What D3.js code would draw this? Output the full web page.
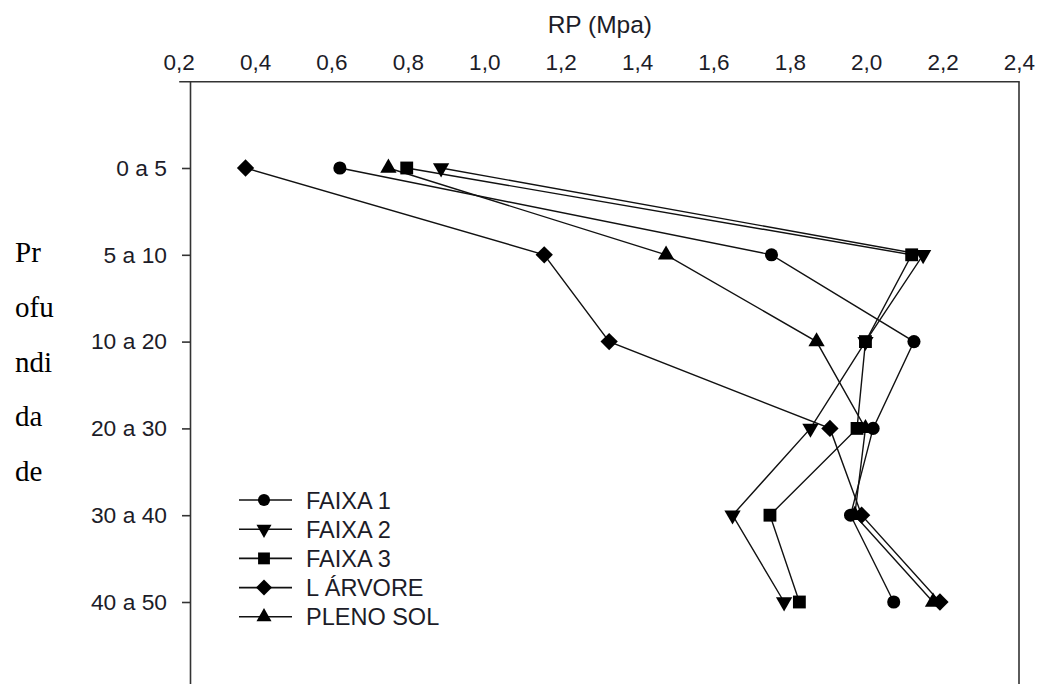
<!DOCTYPE html>
<html><head><meta charset="utf-8">
<script src="https://cdn.jsdelivr.net/npm/d3@7"></script>
<style>body{margin:0;background:#fff}svg{display:block}</style>
</head><body><svg id="c" width="1040" height="684"></svg>
<script>
// ---- data ----
const depths = ["0 a 5", "5 a 10", "10 a 20", "20 a 30", "30 a 40", "40 a 50"];
const xTicks = [0.2, 0.4, 0.6, 0.8, 1.0, 1.2, 1.4, 1.6, 1.8, 2.0, 2.2, 2.4];
const faixa1   = [0.622, 1.752, 2.125, 2.018, 1.959, 2.072];
const faixa2   = [0.887, 2.149, 1.998, 1.854, 1.650, 1.785];
const faixa3   = [0.797, 2.119, 1.998, 1.976, 1.748, 1.825];
const lArvore  = [0.375, 1.157, 1.327, 1.905, 1.988, 2.193];
const plenoSol = [0.749, 1.476, 1.870, 1.998, 1.970, 2.175];
const seriesNames = ["FAIXA 1", "FAIXA 2", "FAIXA 3", "L ÁRVORE", "PLENO SOL"];
const xTitle = "RP (Mpa)";
const yTitleParts = ["Pr", "ofu", "ndi", "da", "de"];

const series = [
  {name: seriesNames[0], values: faixa1,   shape: "circle"},
  {name: seriesNames[1], values: faixa2,   shape: "down"},
  {name: seriesNames[2], values: faixa3,   shape: "square"},
  {name: seriesNames[3], values: lArvore,  shape: "diamond"},
  {name: seriesNames[4], values: plenoSol, shape: "up"}
];

const svg = d3.select("#c");
const x = d3.scaleLinear().domain([0.2, 2.4]).range([178.7, 1019]);
const y = d3.scaleLinear().domain([0, 7]).range([81.2, 688.8]);
const leftAxisX = 190;
const sansFont = "'Liberation Sans', Arial, sans-serif";
const textColor = "#1c1c28";

function symbolPath(shape, big) {
  const k = big ? 1 : 0.85;
  switch (shape) {
    case "circle":  return d3.symbol(d3.symbolCircle, 135 * k)();
    case "square":  return d3.symbol(d3.symbolSquare, 165 * k)();
    case "diamond": return d3.symbol(d3.symbolSquare, 150 * k)();
    default:        return d3.symbol(d3.symbolTriangle, 115 * k)();
  }
}
function symbolRot(shape) {
  if (shape === "diamond") return 45;
  if (shape === "down") return 180;
  return 0;
}

// top axis
const topAxis = d3.axisTop(x).tickValues(xTicks).tickSize(0).tickPadding(11.5)
  .tickFormat(d => d.toFixed(1).replace(".", ","));
const gt = svg.append("g").attr("transform", `translate(0,${y(0)})`).call(topAxis);
gt.select(".domain").attr("stroke", "#333").attr("stroke-width", 1.6);
gt.selectAll("text").attr("font-family", sansFont).attr("font-size", 22.5).attr("fill", textColor);

// left axis
const leftAxis = d3.axisLeft(y).tickValues([1, 2, 3, 4, 5, 6]).tickSizeInner(8).tickSizeOuter(0)
  .tickPadding(15).tickFormat(i => depths[i - 1]);
const gl = svg.append("g").attr("transform", `translate(${leftAxisX},0)`).call(leftAxis);
gl.select(".domain").attr("stroke", "#333").attr("stroke-width", 1.6);
gl.selectAll(".tick line").attr("stroke", "#333").attr("stroke-width", 1.6);
gl.selectAll("text").attr("font-family", sansFont).attr("font-size", 22.8).attr("fill", textColor);

// right frame line
svg.append("line")
  .attr("x1", x(2.4)).attr("x2", x(2.4)).attr("y1", y(0)).attr("y2", y(7))
  .attr("stroke", "#333").attr("stroke-width", 1.6);

// x title
svg.append("text").attr("x", x(1.3) + 1).attr("y", 33).attr("text-anchor", "middle")
  .attr("font-family", sansFont).attr("font-size", 24.5).attr("fill", textColor).text(xTitle);

// y title (broken into lines, serif)
svg.append("g").selectAll("text").data(yTitleParts).join("text")
  .attr("x", 15).attr("y", (d, i) => 262 + i * 54.8)
  .attr("font-family", "'Liberation Serif', 'Times New Roman', serif")
  .attr("font-size", 29).attr("fill", "#000").text(d => d);

// series lines and markers
const line = d3.line().x(d => x(d)).y((d, i) => y(i + 1));
series.forEach(s => {
  svg.append("path").datum(s.values).attr("d", line)
    .attr("fill", "none").attr("stroke", "#111").attr("stroke-width", 1.4);
});
series.slice().reverse().forEach(s => {
  svg.append("g").selectAll("path").data(s.values).join("path")
    .attr("d", symbolPath(s.shape, true))
    .attr("transform", (d, i) => `translate(${x(d)},${y(i + 1)}) rotate(${symbolRot(s.shape)})`)
    .attr("fill", "#000");
});

// legend
const lg = svg.append("g");
series.forEach((s, i) => {
  const cy = 500 + i * 29.2;
  lg.append("line").attr("x1", 239).attr("x2", 292).attr("y1", cy).attr("y2", cy)
    .attr("stroke", "#111").attr("stroke-width", 1.6);
  lg.append("path").attr("d", symbolPath(s.shape, false))
    .attr("transform", `translate(264,${cy}) rotate(${symbolRot(s.shape)})`).attr("fill", "#000");
  lg.append("text").attr("x", 306).attr("y", cy + 8.5)
    .attr("font-family", sansFont).attr("font-size", 23.5).attr("fill", textColor).text(s.name);
});
</script></body></html>
